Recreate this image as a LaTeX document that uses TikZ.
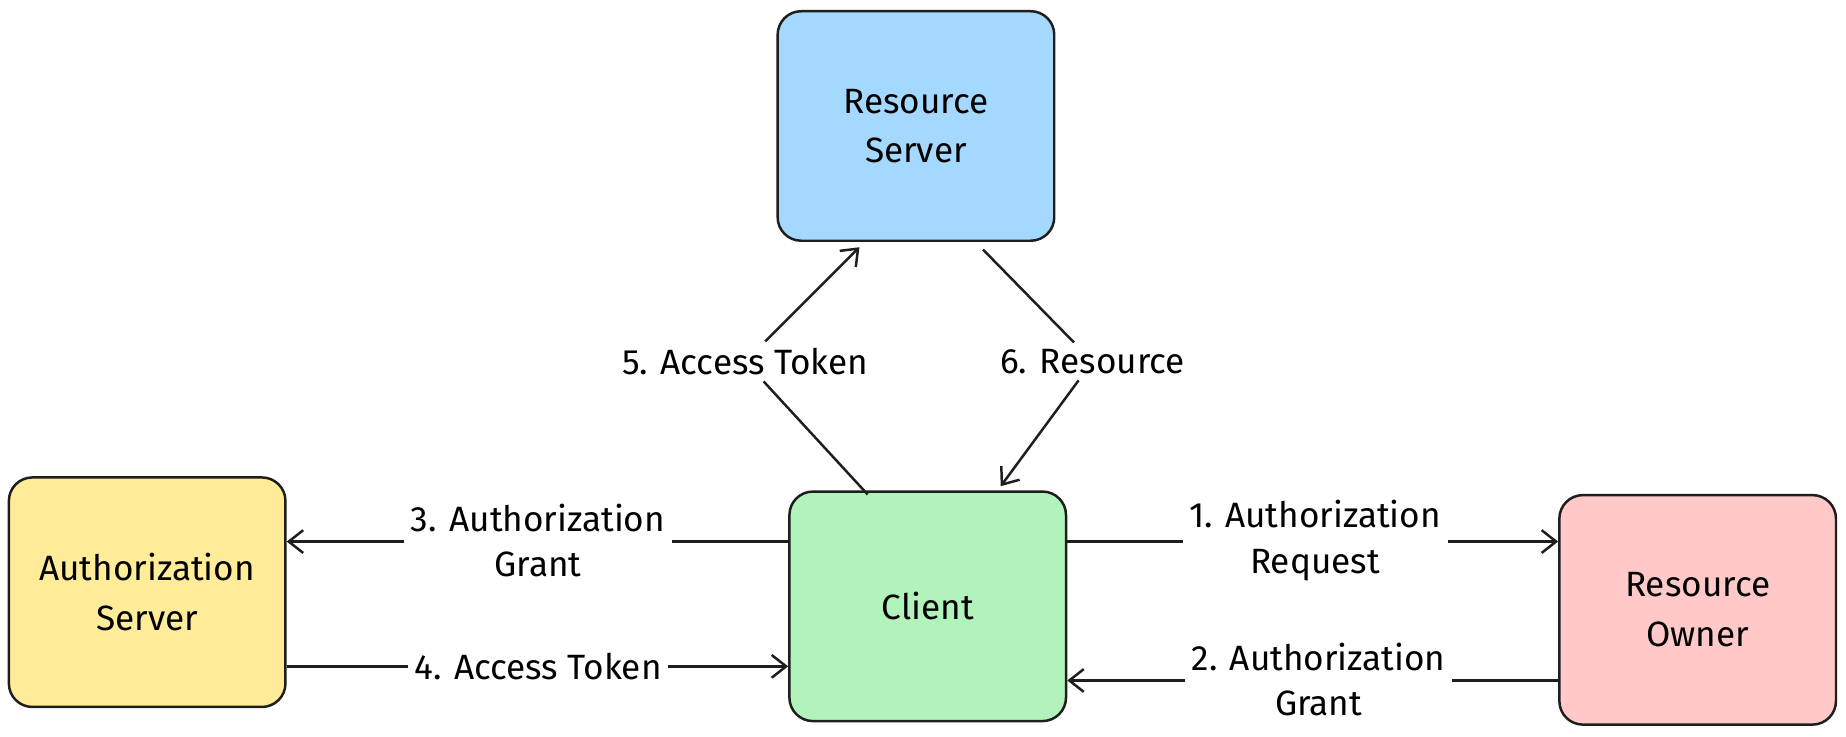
\documentclass[tikz,border=0pt]{standalone}
\usepackage{fontspec}
\setmainfont{Fira Sans}
\usetikzlibrary{arrows.meta}
\definecolor{ink}{HTML}{1E1E1E}
\begin{document}
\begin{tikzpicture}[x=0.02cm,y=-0.02cm,
  box/.style={draw=ink,line width=1.2pt,rounded corners=0.4cm,minimum width=4.7cm,minimum height=3.9cm,align=center,font=\fontsize{17}{24}\selectfont},
  lab/.style={fill=white,align=center,inner sep=3pt,font=\fontsize{17}{22}\selectfont},
  conn/.style={draw=ink,line width=1.2pt,-{Straight Barb[length=7pt,width=11pt]}}]
\useasboundingbox (0,0) rectangle (1568,626);
\node[box,fill={rgb,255:red,165;green,216;blue,255}] (rs) at (778,107) {Resource\\Server};
\node[box,fill={rgb,255:red,255;green,236;blue,153}] (as) at (125,503) {Authorization\\Server};
\node[box,fill={rgb,255:red,178;green,242;blue,187}] (cl) at (788,515) {Client};
\node[box,fill={rgb,255:red,255;green,201;blue,201}] (ro) at (1442,518) {Resource\\Owner};
\node[lab] (l5) at (633,307) {5. Access Token};
\node[lab] (l6) at (928,307) {6. Resource};
\node[lab] (l3) at (457,459) {3. Authorization\\Grant};
\node[lab] (l4) at (457,566) {4. Access Token};
\node[lab] (l1) at (1117,459) {1. Authorization\\Request};
\node[lab] (l2) at (1120,577) {2. Authorization\\Grant};
\coordinate (a5) at (737,420); \coordinate (b5) at (730,210);
\coordinate (a6) at (835,212); \coordinate (b6) at (850,413);
\draw[conn] (a5) -- (l5) -- (b5);
\draw[conn] (a6) -- (l6) -- (b6);
\draw[conn] (cl.west |- 0,460) -- (l3.east |- 0,460) (l3.west |- 0,460) -- (as.east |- 0,460);
\draw[conn] (as.east |- 0,566) -- (l4) -- (cl.west |- 0,566);
\draw[conn] (cl.east |- 0,460) -- (l1.west |- 0,460) (l1.east |- 0,460) -- (ro.west |- 0,460);
\draw[conn] (ro.west |- 0,578) -- (l2.east |- 0,578) (l2.west |- 0,578) -- (cl.east |- 0,578);
\end{tikzpicture}
\end{document}
